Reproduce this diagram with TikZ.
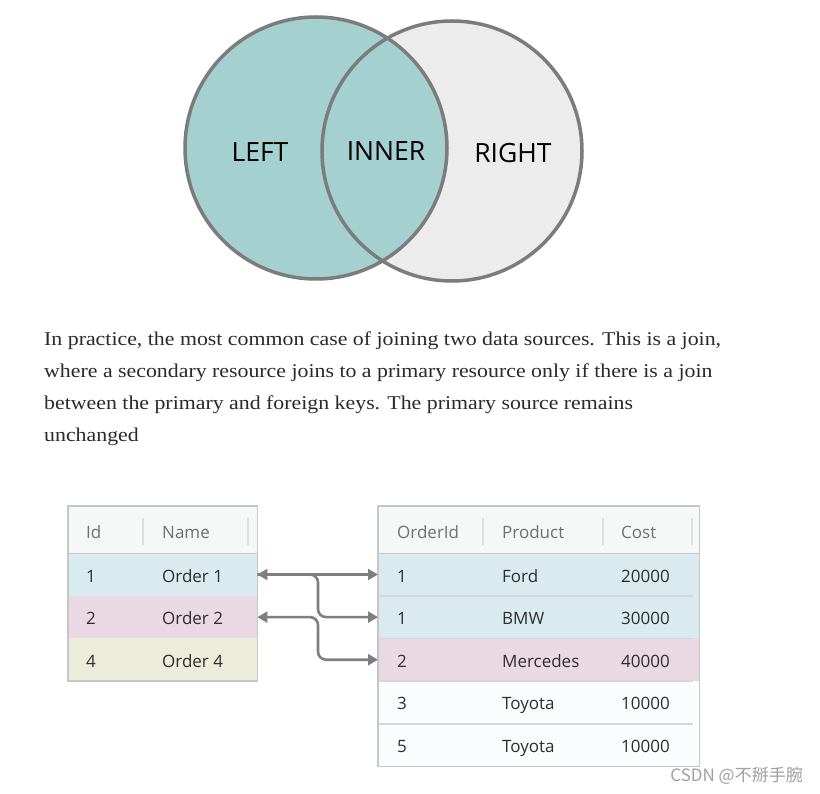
\documentclass[tikz,border=0pt]{standalone}
\usepackage{fontspec}
\setmainfont{Liberation Serif}
\newfontfamily\bodyfont[FakeStretch=1.12]{Liberation Serif}
\newfontfamily\uifont{Open Sans}
\newfontfamily\cjkfont{Noto Sans CJK SC}
\usetikzlibrary{arrows.meta,positioning}

\definecolor{vennteal}{HTML}{A4D0D0}
\definecolor{vennpale}{HTML}{ECECEC}
\definecolor{venngray}{HTML}{7C7C7C}
\definecolor{hdrbg}{HTML}{F6F7F7}
\definecolor{rowblue}{HTML}{D9EBEE}
\definecolor{rowpink}{HTML}{EAD9E2}
\definecolor{rowbeige}{HTML}{ECECDB}
\definecolor{rowwhite}{HTML}{FBFCFE}
\definecolor{tblborder}{HTML}{C5C8C8}
\definecolor{seplight}{HTML}{DCDFDF}
\definecolor{rowline}{HTML}{D3D9D9}
\definecolor{hdrtext}{HTML}{707070}
\definecolor{celltext}{HTML}{2E2E2E}
\definecolor{bodytext}{HTML}{2A2A2A}
\definecolor{linkgray}{HTML}{7F7F7F}
\definecolor{wmgray}{HTML}{A0A0A0}

\begin{document}
\begin{tikzpicture}[x=1pt,y=-1pt,
    >={Triangle[length=10pt,width=11pt]},
    vennline/.style={draw=venngray, line width=3.5pt},
    vennlabel/.style={inner sep=0pt, font=\uifont\fontsize{26.5}{30}\selectfont, text=black},
    hdrrow/.style={anchor=north west, inner sep=0pt, minimum height=47pt, fill=hdrbg},
    datarow/.style={anchor=north west, inner sep=0pt, minimum height=42.6pt},
    hcell/.style={anchor=base west, inner sep=0pt, font=\uifont\fontsize{17}{20}\selectfont, text=hdrtext},
    dcell/.style={anchor=base west, inner sep=0pt, font=\uifont\fontsize{17}{20}\selectfont, text=celltext},
    colsep/.style={draw=seplight, line width=1.2pt},
    rowsep/.style={draw=rowline, line width=1.5pt},
    frame/.style={draw=tblborder, line width=1.8pt},
    link/.style={draw=linkgray, line width=2.6pt, rounded corners=8pt}
    ]
    \useasboundingbox (0,0) rectangle (820,794);
    \fill[white] (0,0) rectangle (820,794);

    % venn diagram
    \fill[vennpale] (452,151) circle (130pt);
    \fill[vennteal] (316,148) circle (131pt);
    \draw[vennline] (452,151) circle (130pt);
    \draw[vennline] (316,148) circle (131pt);
    \node[vennlabel] (left) at (260,152) {LEFT};
    \node[vennlabel] (inner) at (386,151) {INNER};
    \node[vennlabel] (right) at (513,153) {RIGHT};

    % text
    \node[anchor=north west, inner sep=0pt, align=left, text=bodytext,
          font=\bodyfont\fontsize{19.5}{32}\selectfont] (para) at (44,332)
    {In practice, the most common case of joining two data sources. This is a join,\\
     where a secondary resource joins to a primary resource only if there is a join\\
     between the primary and foreign keys. The primary source remains\\
     unchanged};

    % left table
    \node[hdrrow, minimum width=189pt] (LH) at (68,506) {};
    \node[datarow, minimum width=189pt, fill=rowblue] (L1) at (68,553) {};
    \node[datarow, minimum width=189pt, fill=rowpink] (L2) at (68,595.6) {};
    \node[datarow, minimum width=189pt, fill=rowbeige] (L3) at (68,638.2) {};
    \foreach \x in {143,248}
        \draw[colsep] (\x,518) -- (\x,545);
    \draw[frame] (LH.south west) -- (LH.south east);
    \draw[frame] (LH.north west) rectangle (L3.south east);
    \node[hcell] (LH-id) at ([xshift=18pt,yshift=-8.5pt]LH.west) {Id};
    \node[hcell] (LH-name) at ([xshift=94pt,yshift=-8.5pt]LH.west) {Name};
    \foreach \r/\i/\n in {L1/1/Order 1, L2/2/Order 2, L3/4/Order 4} {
        \node[dcell] (\r-id) at ([xshift=18pt,yshift=-7.5pt]\r.west) {\i};
        \node[dcell] (\r-name) at ([xshift=94pt,yshift=-7.5pt]\r.west) {\n};
    }

    % right table
    \node[hdrrow, minimum width=321pt] (RH) at (378,506) {};
    \node[datarow, minimum width=321pt, fill=rowblue] (R1) at (378,553) {};
    \node[datarow, minimum width=321pt, fill=rowblue] (R2) at (378,595.6) {};
    \node[datarow, minimum width=321pt, fill=rowpink] (R3) at (378,638.2) {};
    \node[datarow, minimum width=321pt, fill=rowwhite] (R4) at (378,680.8) {};
    \node[datarow, minimum width=321pt, fill=rowwhite] (R5) at (378,723.4) {};
    \foreach \x in {483,603,692}
        \draw[colsep] (\x,518) -- (\x,545);
    \foreach \r in {R1,R2,R3,R4}
        \draw[rowsep] (\r.south west) -- ([xshift=-6pt]\r.south east);
    \draw[frame] (RH.south west) -- (RH.south east);
    \draw[frame] (RH.north west) rectangle (R5.south east);
    \node[hcell] (RH-id) at ([xshift=19pt,yshift=-8.5pt]RH.west) {OrderId};
    \node[hcell] (RH-prod) at ([xshift=124pt,yshift=-8.5pt]RH.west) {Product};
    \node[hcell] (RH-cost) at ([xshift=243pt,yshift=-8.5pt]RH.west) {Cost};
    \foreach \r/\i/\p/\c in {R1/1/Ford/20000, R2/1/BMW/30000, R3/2/Mercedes/40000,
                             R4/3/Toyota/10000, R5/5/Toyota/10000} {
        \node[dcell] (\r-id) at ([xshift=19pt,yshift=-7.5pt]\r.west) {\i};
        \node[dcell] (\r-prod) at ([xshift=124pt,yshift=-7.5pt]\r.west) {\p};
        \node[dcell] (\r-cost) at ([xshift=243pt,yshift=-7.5pt]\r.west) {\c};
    }

    % joins
    \coordinate (bend) at (318,600);
    \draw[link,<->] (L1.east) -- (R1.west);
    \draw[link,->] (L1.east) -| (bend |- R2.west) -- (R2.west);
    \draw[link,<->] (L2.east) -| (bend |- R3.west) -- (R3.west);

    \node[anchor=east, inner sep=0pt, text=wmgray,
          font=\cjkfont\fontsize{17}{19}\selectfont] (wmark) at (803,776) {CSDN @不掰手腕};
\end{tikzpicture}
\end{document}
